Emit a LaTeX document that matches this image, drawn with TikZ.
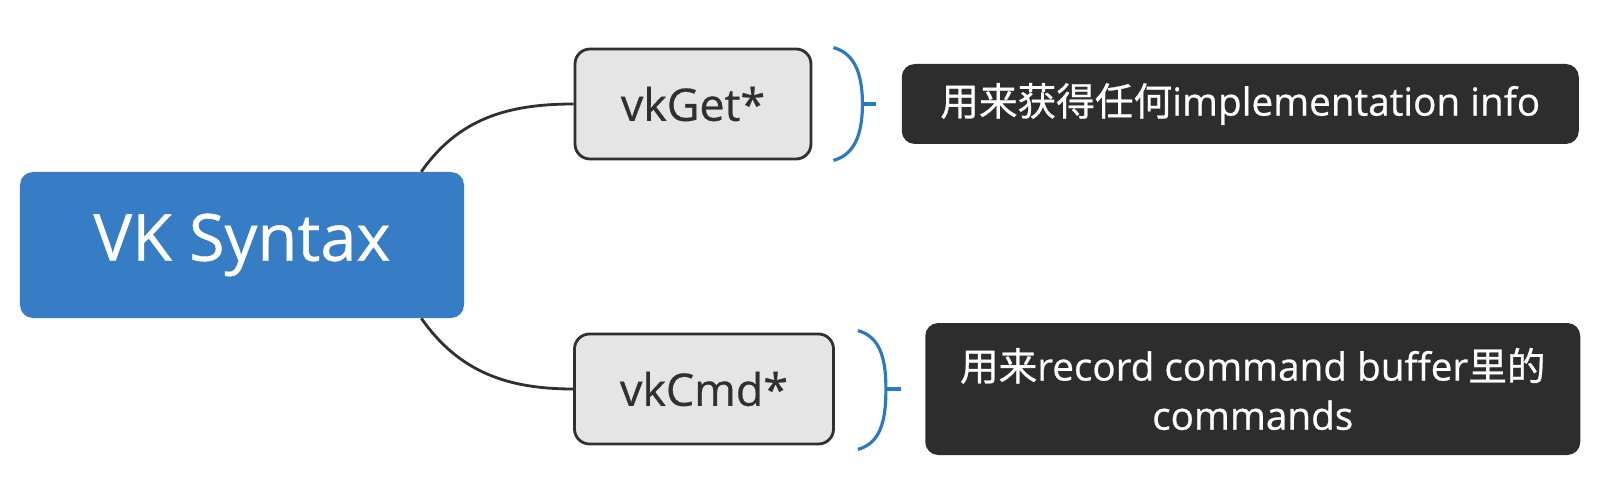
\documentclass[tikz,border=0pt]{standalone}
\usepackage{fontspec}
\setmainfont{Open Sans}[UprightFeatures={FakeBold=0.6}]
\newfontfamily\cjk{Noto Sans CJK SC}[UprightFeatures={FakeBold=0.6}]
\usetikzlibrary{positioning}

\definecolor{rootblue}{RGB}{54,125,197}
\definecolor{topicgray}{RGB}{229,229,229}
\definecolor{edgegray}{RGB}{48,48,48}
\definecolor{notedark}{RGB}{45,45,45}
\definecolor{braceblue}{RGB}{42,121,196}

\begin{document}
\begin{tikzpicture}[
    root/.style={rectangle, rounded corners=0.26cm, fill=rootblue, text=white, minimum width=8.88cm, minimum height=2.92cm, font=\fontsize{37}{40}\selectfont},
    topic/.style={rectangle, rounded corners=0.3cm, draw=edgegray, line width=1.6pt, fill=topicgray, text=edgegray, minimum height=2.2cm, font=\fontsize{25.5}{30}\selectfont},
    note/.style={rectangle, rounded corners=0.26cm, fill=notedark, text=white, align=center, font=\fontsize{22}{28}\selectfont},
    branch/.style={line width=1.6pt, draw=edgegray},
    brace/.style={line width=1.8pt, draw=braceblue}
]
\useasboundingbox (0,0) rectangle (32.2,9.72);

\node[root] (vk) at (4.84,4.82) {VK Syntax};
\node[topic, minimum width=4.72cm] (get) at (13.86,7.64) {vkGet*};
\node[topic, minimum width=5.18cm] (cmd) at (14.08,1.94) {vkCmd*};

\node[note, right=1.78cm of get, minimum width=13.54cm, minimum height=1.6cm] (getinfo) {{\cjk 用来获得任何}implementation info};
\node[note, right=1.8cm of cmd, minimum width=13.1cm, minimum height=2.64cm] (cmdinfo) {{\cjk 用来}record command buffer{\cjk 里的}\\commands};

\draw[branch] ([xshift=-0.86cm]vk.north east) to[out=55,in=180] (get.west);
\draw[branch] ([xshift=-0.86cm]vk.south east) to[out=-55,in=180] (cmd.west);

% brackets
\draw[brace] ([xshift=0.42cm]get.north east) to[out=-15,in=90] ([xshift=1.0cm]get.east) to[out=-90,in=15] ([xshift=0.42cm]get.south east);
\draw[brace] ([xshift=1.0cm]get.east) -- ([xshift=1.28cm]get.east);
\draw[brace] ([xshift=0.46cm,yshift=0.04cm]cmd.north east) to[out=-15,in=90] ([xshift=1.02cm]cmd.east) to[out=-90,in=15] ([xshift=0.46cm,yshift=-0.08cm]cmd.south east);
\draw[brace] ([xshift=1.02cm]cmd.east) -- ([xshift=1.32cm]cmd.east);

\end{tikzpicture}
\end{document}
